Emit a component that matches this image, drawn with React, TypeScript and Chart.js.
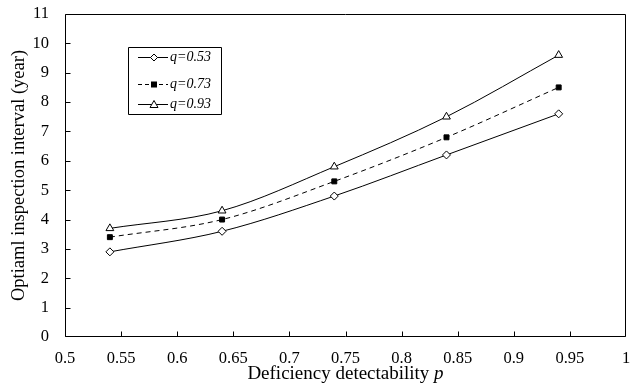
import React, { useEffect, useRef } from "react";
import { Chart, registerables } from "chart.js";
Chart.register(...registerables);

const pValues = [0.54, 0.64, 0.74, 0.84, 0.94];
const q053 = [2.9, 3.6, 4.8, 6.2, 7.6];
const q073 = [3.4, 4.0, 5.3, 6.8, 8.5];
const q093 = [3.7, 4.3, 5.8, 7.5, 9.6];
const seriesLabels = ["q=0.53", "q=0.73", "q=0.93"];
const xTitleMain = "Deficiency detectability ";
const xTitleVar = "p";

const FONT = "'Liberation Serif', 'Times New Roman', serif";

const inwardTicks = {
  id: "inwardTicks",
  afterDraw(chart: any) {
    const ctx = chart.ctx;
    const { left, right, top, bottom } = chart.chartArea;
    ctx.save();
    ctx.strokeStyle = "#000";
    ctx.lineWidth = 1;
    ctx.setLineDash([]);
    const L = Math.round(left) + 0.5;
    const R = Math.round(right) - 0.5;
    const T = Math.round(top) + 0.5;
    const B = Math.round(bottom) - 0.5;
    ctx.beginPath();
    ctx.moveTo(L, T);
    ctx.lineTo(R, T);
    ctx.moveTo(R, T);
    ctx.lineTo(R, B);
    ctx.moveTo(R, B);
    ctx.lineTo(L, B);
    ctx.moveTo(L, B);
    ctx.lineTo(L, T);
    ctx.stroke();
    const xs = chart.scales.x;
    xs.ticks.forEach((t: any) => {
      let px = Math.round(xs.getPixelForValue(t.value)) + 0.5;
      if (px > R) px = R;
      ctx.beginPath();
      ctx.moveTo(px, B);
      ctx.lineTo(px, B - 5);
      ctx.stroke();
    });
    const ys = chart.scales.y;
    ys.ticks.forEach((t: any) => {
      let py = Math.round(ys.getPixelForValue(t.value)) + 0.5;
      if (py > B) py = B;
      ctx.beginPath();
      ctx.moveTo(L, py);
      ctx.lineTo(L + 5, py);
      ctx.stroke();
    });

    // x axis title with italic variable
    ctx.fillStyle = "#000";
    ctx.textBaseline = "middle";
    ctx.textAlign = "left";
    ctx.font = `19px ${FONT}`;
    const w1 = ctx.measureText(xTitleMain).width;
    ctx.font = `italic 19px ${FONT}`;
    const w2 = ctx.measureText(xTitleVar).width;
    const cx = (left + right) / 2;
    const sx = cx - (w1 + w2) / 2;
    const ty = 374;
    ctx.font = `19px ${FONT}`;
    ctx.fillText(xTitleMain, sx, ty);
    ctx.font = `italic 19px ${FONT}`;
    ctx.fillText(xTitleVar, sx + w1, ty);

    // legend box
    const bx = 128.5, by = 47.5, bw = 93, bh = 67;
    ctx.beginPath();
    ctx.rect(bx, by, bw, bh);
    ctx.stroke();
    const styles = [
      { dash: [] as number[], marker: "diamond" },
      { dash: [4, 3], marker: "square" },
      { dash: [] as number[], marker: "triangle" },
    ];
    const rowsY = [57, 84, 104];
    styles.forEach((s, i) => {
      const y = rowsY[i] + 0.5;
      ctx.setLineDash(s.dash);
      ctx.beginPath();
      ctx.moveTo(138, y);
      ctx.lineTo(168, y);
      ctx.stroke();
      ctx.setLineDash([]);
      const mx = 154;
      ctx.beginPath();
      if (s.marker === "diamond") {
        ctx.moveTo(mx, y - 3.5);
        ctx.lineTo(mx + 3.5, y);
        ctx.lineTo(mx, y + 3.5);
        ctx.lineTo(mx - 3.5, y);
        ctx.closePath();
        ctx.fillStyle = "#fff";
        ctx.fill();
        ctx.stroke();
      } else if (s.marker === "square") {
        ctx.fillStyle = "#000";
        ctx.fillRect(mx - 3, y - 3, 6, 6);
      } else {
        ctx.moveTo(mx, y - 4);
        ctx.lineTo(mx + 4, y + 3);
        ctx.lineTo(mx - 4, y + 3);
        ctx.closePath();
        ctx.fillStyle = "#fff";
        ctx.fill();
        ctx.stroke();
      }
      ctx.fillStyle = "#000";
      ctx.font = `italic 14px ${FONT}`;
      ctx.textAlign = "left";
      ctx.textBaseline = "middle";
      ctx.fillText(seriesLabels[i], 170, y);
    });
    ctx.restore();
  },
};

export default function App() {
  const ref = useRef<HTMLCanvasElement>(null);
  useEffect(() => {
    document.body.style.margin = "0";
    document.body.style.overflow = "hidden";
    const toPts = (arr: number[]) => arr.map((v, i) => ({ x: pValues[i], y: v }));
    const common = {
      borderColor: "#000",
      borderWidth: 1,
      pointBorderColor: "#000",
      pointBorderWidth: 1,
      tension: 0.4,
      cubicInterpolationMode: "monotone" as const,
    };
    const chart = new Chart(ref.current!, {
      type: "line",
      data: {
        datasets: [
          {
            ...common,
            label: seriesLabels[0],
            data: toPts(q053),
            pointStyle: "rectRot",
            pointRadius: 4,
            pointBackgroundColor: "#fff",
          },
          {
            ...common,
            label: seriesLabels[1],
            data: toPts(q073),
            borderDash: [5, 4],
            pointStyle: "rect",
            pointRadius: 3.5,
            pointBackgroundColor: "#000",
          },
          {
            ...common,
            label: seriesLabels[2],
            data: toPts(q093),
            pointStyle: "triangle",
            pointRadius: 4.5,
            pointBackgroundColor: "#fff",
          },
        ],
      },
      options: {
        animation: false,
        responsive: false,
        layout: { padding: { top: 14, right: 12, left: 0, bottom: 0 } },
        plugins: { legend: { display: false }, tooltip: { enabled: false } },
        scales: {
          x: {
            type: "linear",
            min: 0.5,
            max: 1,
            ticks: {
              stepSize: 0.05,
              color: "#000",
              font: { family: FONT, size: 16.5 },
              padding: 4,
              maxRotation: 0,
              autoSkip: false,
              callback: (v: any) => String(Math.round(Number(v) * 100) / 100),
            },
            grid: { display: false },
            border: { display: false },
            title: { display: false },
            afterFit: (s: any) => {
              s.height = 51;
              s.paddingLeft = 0;
              s.paddingRight = 0;
            },
          },
          y: {
            min: 0,
            max: 11,
            ticks: {
              stepSize: 1,
              color: "#000",
              font: { family: FONT, size: 16.5 },
              padding: 8,
            },
            grid: { display: false },
            border: { display: false },
            title: {
              display: true,
              text: "Optiaml inspection interval (year)",
              color: "#000",
              font: { family: FONT, size: 18.5 },
              padding: { top: 8, bottom: 0 },
            },
            afterFit: (s: any) => {
              s.width = 65;
              s.paddingTop = 0;
              s.paddingBottom = 0;
            },
          },
        },
      },
      plugins: [inwardTicks],
    });
    return () => chart.destroy();
  }, []);
  return (
    <div style={{ width: 638, height: 388, background: "#fff", overflow: "hidden" }}>
      <canvas ref={ref} width={638} height={388} style={{ display: "block" }} />
    </div>
  );
}
